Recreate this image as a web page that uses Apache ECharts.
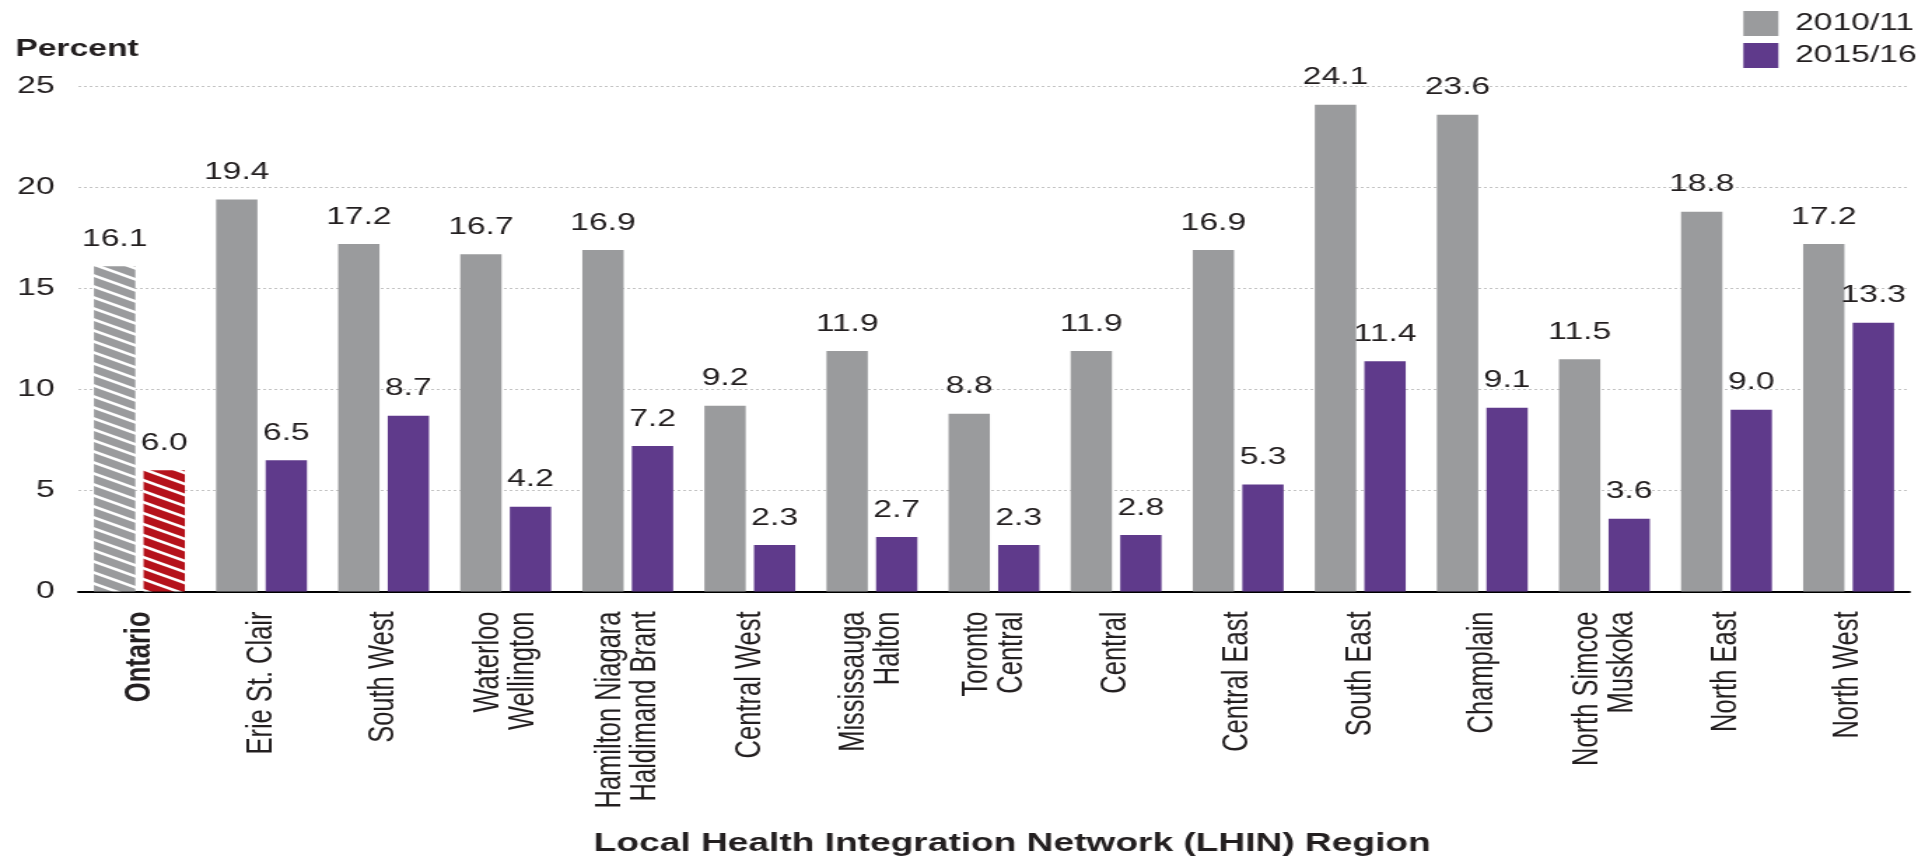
<!DOCTYPE html>
<html>
<head>
<meta charset="utf-8">
<title>LHIN Region</title>
<script src="https://cdn.jsdelivr.net/npm/echarts@6/dist/echarts.min.js"></script>
<style>
  html, body { margin: 0; padding: 0; background: #ffffff; }
  #wrap { width: 1928px; height: 862px; overflow: hidden; }
  /* the chart is laid out narrower and widened to the page width */
  #chart { width: 1377px; height: 862px; transform: scaleX(1.4); transform-origin: 0 0; }
</style>
</head>
<body>
<div id="wrap"><div id="chart"></div></div>
<script>
// Regions (Ontario total first, then the 14 LHINs)
const categories = [
  'Ontario', 'Erie St. Clair', 'South West', 'Waterloo\nWellington',
  'Hamilton Niagara\nHaldimand Brant', 'Central West', 'Mississauga\nHalton',
  'Toronto\nCentral', 'Central', 'Central East', 'South East', 'Champlain',
  'North Simcoe\nMuskoka', 'North East', 'North West'
];
const seriesNames = ['2010/11', '2015/16'];
const values2010 = [16.1, 19.4, 17.2, 16.7, 16.9, 9.2, 11.9, 8.8, 11.9, 16.9, 24.1, 23.6, 11.5, 18.8, 17.2];
const values2015 = [6.0, 6.5, 8.7, 4.2, 7.2, 2.3, 2.7, 2.3, 2.8, 5.3, 11.4, 9.1, 3.6, 9.0, 13.3];
const yTicks = [0, 5, 10, 15, 20, 25];

const GRAY = '#9a9b9d';
const PURPLE = '#5f3a8b';
const RED = '#b5121b';
const TEXT = '#231f20';
const FONT = '"Liberation Sans", Arial, Helvetica, sans-serif';

// diagonal white stripes on a coloured ground, used for the Ontario bars
function stripes(color) {
  const w = 22, h = 11;
  const c = document.createElement('canvas');
  c.width = w; c.height = h;
  const g = c.getContext('2d');
  g.fillStyle = color;
  g.fillRect(0, 0, w, h);
  g.strokeStyle = '#ffffff';
  g.lineWidth = 2.6;
  for (const dy of [-h, 0, h]) {
    g.beginPath();
    g.moveTo(-2, dy - 2 * h / w);
    g.lineTo(w + 2, dy + h + 2 * h / w);
    g.stroke();
  }
  return { image: c, repeat: 'repeat' };
}

function withOntario(values, pattern) {
  return values.map((v, i) => i === 0 ? { value: v, itemStyle: { color: pattern } } : v);
}

const labelCfg = {
  show: true,
  position: 'top',
  distance: 15,
  fontSize: 24,
  fontFamily: FONT,
  color: TEXT,
  formatter: p => Number(p.value).toFixed(1)
};

const chart = echarts.init(document.getElementById('chart'), null, { renderer: 'canvas', devicePixelRatio: 1 });

chart.setOption({
  animation: false,
  backgroundColor: '#ffffff',
  textStyle: { fontFamily: FONT },
  grid: { left: 56, right: 13, top: 86.5, bottom: 270.5, containLabel: false },
  legend: {
    data: seriesNames,
    orient: 'vertical',
    right: 3,
    top: 6,
    icon: 'rect',
    itemWidth: 25,
    itemHeight: 25,
    itemGap: 7,
    textStyle: { fontSize: 24, color: TEXT, fontFamily: FONT, padding: [0, 0, 0, 7] }
  },
  graphic: [
    {
      type: 'text', left: 11, top: 37,
      style: { text: 'Percent', fontSize: 24, fontWeight: 'bold', fill: TEXT, fontFamily: FONT }
    },
    {
      type: 'text', x: 723, y: 844,
      style: {
        text: 'Local Health Integration Network (LHIN) Region',
        fontSize: 26.5, fontWeight: 'bold', fill: TEXT, fontFamily: FONT,
        align: 'center', verticalAlign: 'middle'
      }
    }
  ],
  xAxis: {
    type: 'category',
    data: categories,
    axisLine: { show: true, lineStyle: { color: '#000000', width: 2 } },
    axisTick: { show: false },
    axisLabel: {
      rotate: 90,
      interval: 0,
      margin: 20,
      fontSize: 25.5,
      lineHeight: 25,
      color: TEXT,
      fontFamily: FONT,
      formatter: (v, i) => i === 0 ? '{b|' + v + '}' : v,
      rich: { b: { fontWeight: 'bold', fontSize: 25.5, color: TEXT, fontFamily: FONT } }
    }
  },
  yAxis: {
    type: 'value',
    min: yTicks[0],
    max: yTicks[yTicks.length - 1],
    interval: yTicks[1] - yTicks[0],
    axisLine: { show: false },
    axisTick: { show: false },
    axisLabel: { fontSize: 24, color: TEXT, fontFamily: FONT, margin: 17 },
    splitLine: { show: true, lineStyle: { color: '#c4c4c4', type: [2, 2], width: 1 } }
  },
  series: [
    {
      name: seriesNames[0],
      type: 'bar',
      data: withOntario(values2010, stripes(GRAY)),
      itemStyle: { color: GRAY },
      barWidth: 29.5,
      barGap: '20%',
      label: labelCfg
    },
    {
      name: seriesNames[1],
      type: 'bar',
      data: withOntario(values2015, stripes(RED)),
      itemStyle: { color: PURPLE },
      barWidth: 29.5,
      label: labelCfg
    }
  ]
});
</script>
</body>
</html>
